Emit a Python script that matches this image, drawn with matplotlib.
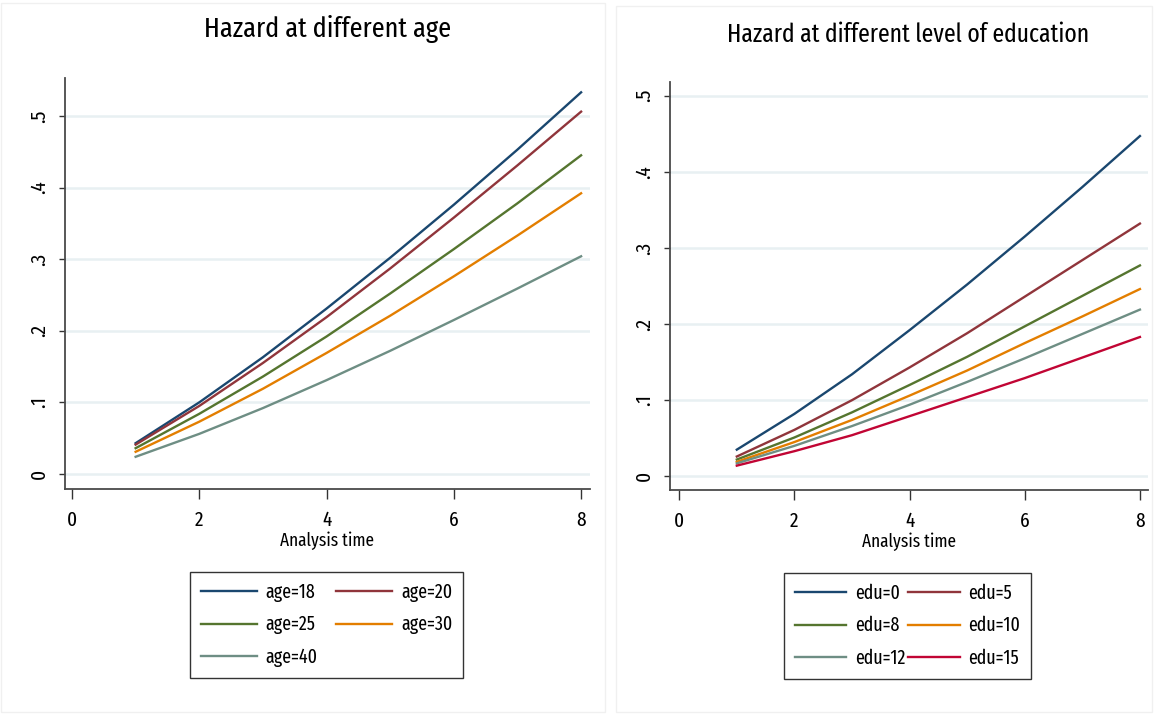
import matplotlib.pyplot as plt
from matplotlib.patches import Rectangle

# analysis time points
t = [1, 2, 3, 4, 5, 6, 7, 8]

# predicted hazard by age
age_labels = ["age=18", "age=20", "age=25", "age=30", "age=40"]
age_18 = [0.043, 0.100, 0.163, 0.231, 0.302, 0.376, 0.453, 0.533]
age_20 = [0.041, 0.095, 0.155, 0.219, 0.287, 0.358, 0.431, 0.506]
age_25 = [0.036, 0.084, 0.136, 0.192, 0.252, 0.314, 0.378, 0.445]
age_30 = [0.031, 0.073, 0.119, 0.169, 0.221, 0.276, 0.333, 0.392]
age_40 = [0.024, 0.056, 0.092, 0.131, 0.172, 0.215, 0.259, 0.304]

# predicted hazard by years of education
edu_labels = ["edu=0", "edu=5", "edu=8", "edu=10", "edu=12", "edu=15"]
edu_0 = [0.035, 0.082, 0.134, 0.192, 0.252, 0.315, 0.380, 0.447]
edu_5 = [0.026, 0.061, 0.100, 0.143, 0.188, 0.236, 0.284, 0.332]
edu_8 = [0.022, 0.051, 0.084, 0.120, 0.157, 0.197, 0.237, 0.277]
edu_10 = [0.019, 0.045, 0.074, 0.106, 0.139, 0.175, 0.210, 0.246]
edu_12 = [0.017, 0.040, 0.066, 0.094, 0.124, 0.155, 0.187, 0.219]
edu_15 = [0.014, 0.033, 0.054, 0.079, 0.104, 0.129, 0.156, 0.183]

xticks = [0, 2, 4, 6, 8]
yticks = [0, 0.1, 0.2, 0.3, 0.4, 0.5]
yticklabels = ["0", ".1", ".2", ".3", ".4", ".5"]

# stata s2color palette
colors = ["#1a476f", "#90353b", "#55752f", "#e37e00", "#6e8e84", "#c10534"]

plt.rcParams["font.family"] = ["Fira Sans Extra Condensed", "DejaVu Sans"]

W, H = 1154, 719
fig = plt.figure(figsize=(W / 100, H / 100), dpi=100)


def px(x0, y0, x1, y1):
    return [x0 / W, 1 - y1 / H, (x1 - x0) / W, (y1 - y0) / H]


# faint panel borders from graph combine
fig.patches.append(Rectangle((1 / W, 1 - 712 / H), 604 / W, 709 / H, transform=fig.transFigure,
                             fill=False, ec="#f0f0f0", lw=1))
fig.patches.append(Rectangle((616 / W, 1 - 712 / H), 536 / W, 706 / H, transform=fig.transFigure,
                             fill=False, ec="#f0f0f0", lw=1))


def row_major(items, ncol=2):
    # legend fills by column, stata fills by row
    return [items[i] for c in range(ncol) for i in range(c, len(items), ncol)]


def panel(rect, series, labels, title, title_xy, title_size, xlim, ylim, leg_rect, hlen):
    ax = fig.add_axes(rect)
    lines = []
    for ys, lab, c in zip(series, labels, colors):
        lines += ax.plot(t, ys, color=c, lw=1.7, label=lab)
    ax.set_xlim(*xlim)
    ax.set_ylim(*ylim)
    ax.set_xticks(xticks)
    ax.set_yticks(yticks)
    ax.set_yticklabels(yticklabels, rotation=90, va="center")
    ax.grid(axis="y", color="#e8f0f2", lw=1.8)
    ax.set_axisbelow(True)
    for s in ["top", "right"]:
        ax.spines[s].set_visible(False)
    for s in ["left", "bottom"]:
        ax.spines[s].set_color("#4a4a4a")
        ax.spines[s].set_linewidth(1.3)
    ax.tick_params(axis="x", direction="out", length=7.5, width=1, color="#333333",
                   labelsize=15, pad=8)
    ax.tick_params(axis="y", direction="out", length=4.5, width=1, color="#333333",
                   labelsize=15, pad=7)
    ax.set_xlabel("Analysis time", fontsize=13.5, labelpad=1)
    fig.text(title_xy[0] / W, 1 - title_xy[1] / H, title, fontsize=title_size,
             ha="center", va="baseline")
    leg = ax.legend(row_major(lines), row_major(labels), loc="upper left",
                    bbox_to_anchor=leg_rect, bbox_transform=fig.transFigure,
                    mode="expand", ncol=2, fontsize=14, frameon=True, fancybox=False,
                    edgecolor="black", handlelength=hlen, handletextpad=0.45,
                    labelspacing=0.65, borderpad=0.55, borderaxespad=0)
    leg.get_frame().set_linewidth(1.0)
    return ax


panel(px(65, 78, 590, 489), [age_18, age_20, age_25, age_30, age_40], age_labels,
      "Hazard at different age", (328, 37), 20.5, (-0.11, 8.14), (-0.021, 0.553),
      (190 / W, 1 - 687 / H, 273 / W, 115 / H), 2.9)
panel(px(670, 82, 1148, 490), [edu_0, edu_5, edu_8, edu_10, edu_12, edu_15], edu_labels,
      "Hazard at different level of education", (908, 42), 18.5, (-0.16, 8.14), (-0.018, 0.518),
      (784 / W, 1 - 687 / H, 247 / W, 114 / H), 2.65)

fig.savefig("out.png", dpi=100)
